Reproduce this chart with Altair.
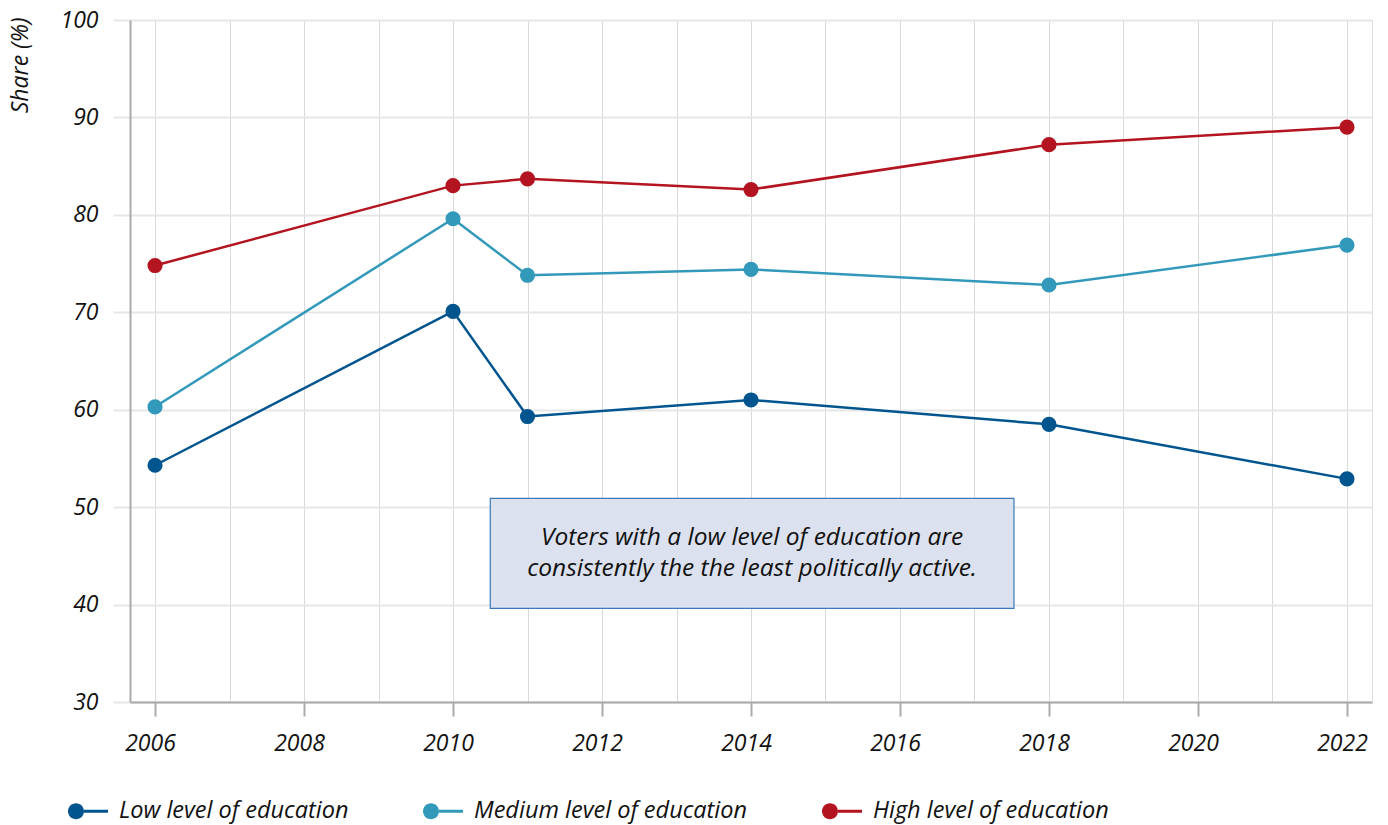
import altair as alt
import pandas as pd

years = [2006, 2010, 2011, 2014, 2018, 2022]
low = [54.3, 70.1, 59.3, 61.0, 58.5, 52.9]
medium = [60.3, 79.6, 73.8, 74.4, 72.8, 76.9]
high = [74.8, 83.0, 83.7, 82.6, 87.2, 89.0]
series_names = ["Low level of education", "Medium level of education", "High level of education"]
series_colors = ["#00558f", "#3399bb", "#b3141f"]
note_lines = ["Voters with a low level of education are", "consistently the the least politically active."]
note_x = [2010.5, 2017.53]
note_y = [39.6, 50.9]

rows = []
for name, vals in zip(series_names, [low, medium, high]):
    for yr, v in zip(years, vals):
        rows.append({"year": yr, "value": v, "series": name})
df = pd.DataFrame(rows)

FONT = "Open Sans"
x_scale = alt.Scale(domain=[2005.664, 2022.336], nice=False, zero=False)
y_scale = alt.Scale(domain=[30, 100], nice=False, zero=False)

x_axis = alt.Axis(
    values=list(range(2006, 2023)),
    labelExpr="datum.value % 2 == 0 ? datum.value : ''",
    tickSize=14,
    tickOpacity={"condition": {"test": "datum.value % 2 == 0", "value": 1}, "value": 0},
    grid=True, gridColor="#d9d9d9", gridWidth=1,
    domainColor="#aaaaaa", domainWidth=2,
    tickColor="#aaaaaa", tickWidth=2,
    labelFont=FONT, labelFontStyle="italic", labelFontSize=23, labelColor="#111111",
    labelPadding=16, labelOffset=-5, title=None, labelFlush=False,
)

base = alt.Chart(df).encode(
    x=alt.X("year:Q", scale=x_scale, axis=x_axis),
    y=alt.Y("value:Q", scale=y_scale, axis=alt.Axis(
        values=[30, 40, 50, 60, 70, 80, 90, 100],
        grid=True, gridColor="#e6e6e6", gridWidth=2,
        domainColor="#aaaaaa", domainWidth=2,
        tickColor="#e6e6e6", tickWidth=2, tickSize=17,
        labelFont=FONT, labelFontStyle="italic", labelFontSize=23, labelColor="#111111",
        labelPadding=15,
        title="Share (%)", titleFont=FONT, titleFontStyle="italic", titleFontWeight="normal",
        titleFontSize=23, titleColor="#111111",
        titleAngle=-90, titleAlign="right", titleBaseline="middle",
        titleX=-110, titleY=-3,
    )),
    color=alt.Color("series:N", scale=alt.Scale(domain=series_names, range=series_colors),
        legend=alt.Legend(
            orient="none", direction="horizontal", legendX=-62, legendY=771,
            title=None,
            symbolType="M-0.2,-0.075 L1,-0.075 L1,0.075 L-0.2,0.075 Z M-1,0 A0.4,0.4 0 1 1 -0.2,0 A0.4,0.4 0 1 1 -1,0 Z",
            symbolSize=1600, symbolStrokeWidth=0, symbolOpacity=1,
            labelFont=FONT, labelFontStyle="italic", labelFontSize=23.5, labelColor="#111111",
            labelOffset=11, columnPadding=74, labelLimit=500,
        )),
)

lines = base.mark_line(strokeWidth=2.5)
points = base.mark_circle(size=230, opacity=1)

note_df = pd.DataFrame({"x": [note_x[0]], "x2": [note_x[1]], "y": [note_y[0]], "y2": [note_y[1]]})
box = alt.Chart(note_df).mark_rect(fill="#dce1ef", stroke="#3a7ab8", strokeWidth=1.2).encode(
    x=alt.X("x:Q", scale=x_scale), x2="x2:Q",
    y=alt.Y("y:Q", scale=y_scale), y2="y2:Q",
)
txt_df = pd.DataFrame({"x": [(note_x[0] + note_x[1]) / 2], "y": [(note_y[0] + note_y[1]) / 2], "t": [note_lines]})
txt = alt.Chart(txt_df).mark_text(
    font=FONT, fontStyle="italic", fontSize=24.5, color="#111111", lineHeight=31,
    align="center", baseline="middle", dy=-15
).encode(x=alt.X("x:Q", scale=x_scale), y=alt.Y("y:Q", scale=y_scale), text="t")

chart = alt.layer(lines, points, box, txt).properties(
    width=1242, height=682,
    autosize=alt.AutoSizeParams(type="none"),
    padding={"left": 130, "top": 20, "right": 16, "bottom": 123},
).configure_view(stroke=None).configure(background="white")

chart.save("out.html", embed_options={"renderer": "svg", "actions": False})
